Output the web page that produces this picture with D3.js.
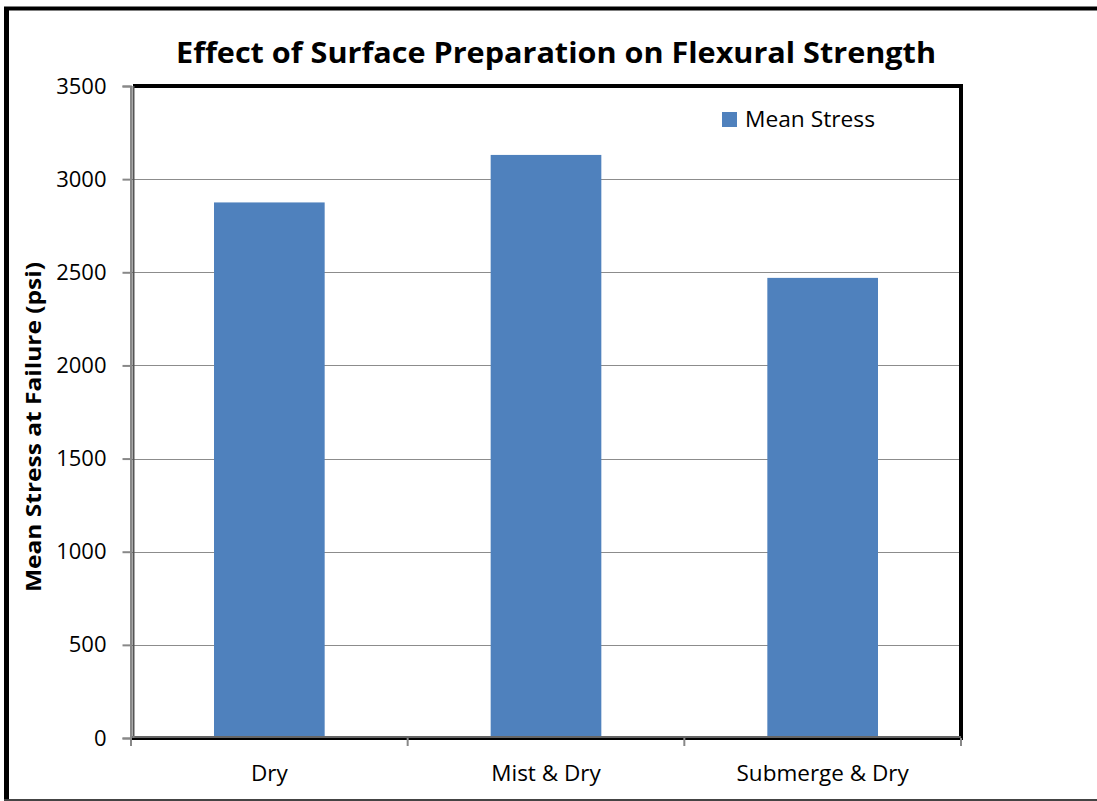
<!DOCTYPE html>
<html><head><meta charset="utf-8">
<script src="https://cdn.jsdelivr.net/npm/d3@7"></script>
<style>body{margin:0;background:#fff;} svg{display:block;}</style>
</head><body>
<svg id="c" width="1097" height="801"></svg>
<script>
const categories = ["Dry", "Mist & Dry", "Submerge & Dry"];
const meanStress = [2875, 3130, 2470];
const yTicks = [0, 500, 1000, 1500, 2000, 2500, 3000, 3500];
const seriesName = "Mean Stress";
const titleText = "Effect of Surface Preparation on Flexural Strength";
const yTitle = "Mean Stress at Failure (psi)";

const font = "'Open Sans', 'Noto Sans', sans-serif";
const svg = d3.select("#c");
const L = 131, R = 961, T = 86, B = 738;

// outer frame
svg.append("rect").attr("x",0).attr("y",0).attr("width",1097).attr("height",801).attr("fill","#fff");
svg.append("line").attr("x1",6.5).attr("x2",6.5).attr("y1",7).attr("y2",801).attr("stroke","#000").attr("stroke-width",5);
svg.append("line").attr("x1",4).attr("x2",1097).attr("y1",8.5).attr("y2",8.5).attr("stroke","#000").attr("stroke-width",4);
svg.append("line").attr("x1",4).attr("x2",1097).attr("y1",800).attr("y2",800).attr("stroke","#444").attr("stroke-width",2);

const x = d3.scaleBand().domain(categories).range([L, R]).paddingInner(0.6).paddingOuter(0.3);
const y = d3.scaleLinear().domain([0, 3500]).range([B, T]);

// gridlines
svg.append("g").selectAll("line").data(yTicks.filter(d => d > 0 && d < 3500)).join("line")
  .attr("x1", L).attr("x2", R).attr("y1", d => Math.round(y(d)) + 0.5).attr("y2", d => Math.round(y(d)) + 0.5)
  .attr("stroke", "#8c8c8c").attr("stroke-width", 1);

// bars
svg.append("g").selectAll("rect").data(meanStress).join("rect")
  .attr("x", (d, i) => x(categories[i])).attr("width", x.bandwidth())
  .attr("y", d => y(d)).attr("height", d => B - y(d))
  .attr("fill", "#4f81bd");

// plot border (black)
svg.append("path").attr("d", `M${L+2},${T} H${R} V${B}`).attr("fill","none").attr("stroke","#000").attr("stroke-width",4);
svg.append("line").attr("x1", L).attr("x2", R+2).attr("y1", B).attr("y2", B).attr("stroke","#000").attr("stroke-width",4);
svg.append("line").attr("x1", L+2.5).attr("x2", L+2.5).attr("y1", T).attr("y2", B).attr("stroke","#555").attr("stroke-width",2);

// y axis
const yAxis = d3.axisLeft(y).tickValues(yTicks).tickSize(8).tickPadding(16).tickFormat(d3.format("d"));
const gy = svg.append("g").attr("transform", `translate(${L-0.5},0)`).call(yAxis);
gy.select(".domain").attr("stroke", "#888").attr("stroke-width", 2);
gy.selectAll(".tick line").attr("stroke", "#888").attr("stroke-width", 2);
gy.selectAll(".tick text").attr("font-family", font).attr("font-size", 22).attr("fill", "#000");

// x axis with boundary ticks
const gx = svg.append("g").attr("transform", `translate(0,${B})`);
gx.append("line").attr("x1", L).attr("x2", R).attr("y1", -1).attr("y2", -1).attr("stroke", "#888").attr("stroke-width", 1.5);
const bnd = [L, L + (R-L)/3, L + 2*(R-L)/3, R];
gx.selectAll("line.t").data(bnd).join("line").attr("class","t")
  .attr("x1", d => d).attr("x2", d => d).attr("y1", 0).attr("y2", 8)
  .attr("stroke", "#888").attr("stroke-width", 2);
gx.selectAll("text").data(categories).join("text")
  .attr("x", d => x(d) + x.bandwidth()/2).attr("y", 43)
  .attr("text-anchor", "middle").attr("font-family", font).attr("font-size", 22.5).attr("fill", "#000")
  .text(d => d);

// title
svg.append("text").attr("x", 556).attr("y", 63).attr("text-anchor", "middle")
  .attr("font-family", font).attr("font-weight", "bold").attr("font-size", 28.5)
  .attr("textLength", 760).attr("lengthAdjust", "spacingAndGlyphs").text(titleText);

// y title
svg.append("text").attr("transform", "translate(41,427) rotate(-90)").attr("text-anchor", "middle")
  .attr("font-family", font).attr("font-weight", "bold").attr("font-size", 21)
  .attr("textLength", 330).attr("lengthAdjust", "spacingAndGlyphs").text(yTitle);

// legend
const lg = svg.append("g").attr("transform", "translate(722,112)");
lg.append("rect").attr("width", 15).attr("height", 15).attr("fill", "#4f81bd");
lg.append("text").attr("x", 23).attr("y", 15).attr("font-family", font).attr("font-size", 21)
  .attr("textLength", 130).attr("lengthAdjust", "spacingAndGlyphs").text(seriesName);
</script>
</body></html>
